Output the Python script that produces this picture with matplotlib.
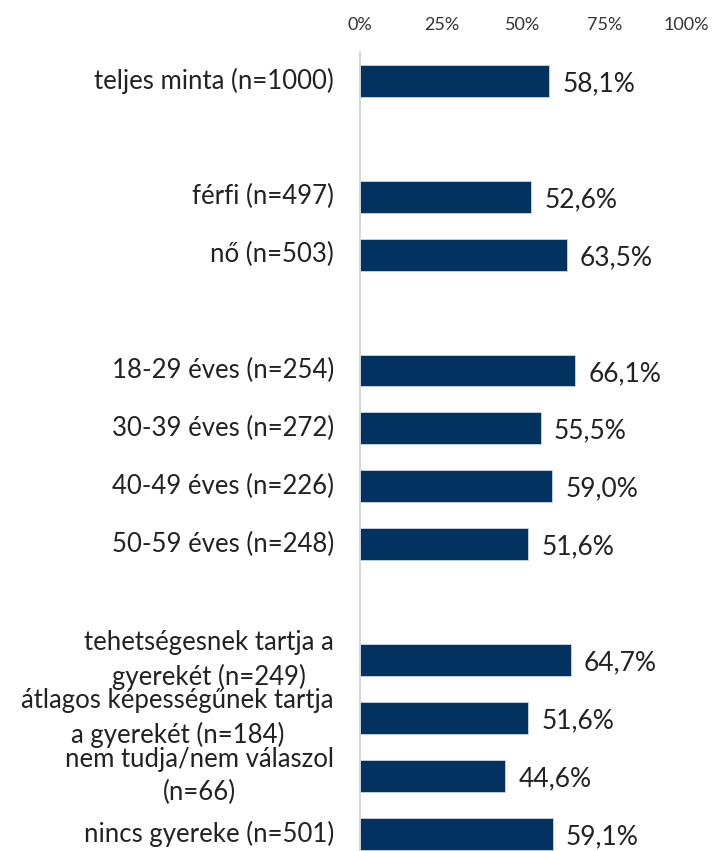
import matplotlib.pyplot as plt
import numpy as np

plt.rcParams['font.family'] = ['Lato', 'DejaVu Sans']

# data (None = empty spacer row)
labels = [
    "teljes minta (n=1000)", None,
    "férfi (n=497)", "nő (n=503)", None,
    "18-29 éves (n=254)", "30-39 éves (n=272)",
    "40-49 éves (n=226)", "50-59 éves (n=248)", None,
    "tehetségesnek tartja a\ngyerekét (n=249)",
    "átlagos képességűnek tartja\na gyerekét (n=184)",
    "nem tudja/nem válaszol\n(n=66)",
    "nincs gyereke (n=501)",
]
values = [58.1, None, 52.6, 63.5, None, 66.1, 55.5, 59.0, 51.6, None,
          64.7, 51.6, 44.6, 59.1]
xticks = [0, 25, 50, 75, 100]

bar_color = "#02325f"

fig = plt.figure(figsize=(7.13, 8.51), dpi=100)
ax = fig.add_axes([360 / 713, 0.0, 326 / 713, 1 - 52 / 851])

for i, (lab, v) in enumerate(zip(labels, values)):
    if v is None:
        continue
    ax.barh(i, v, height=0.55, color=bar_color, edgecolor="#c9d6e6", linewidth=0.6)
    ax.text(v + 4, i + 0.05, f"{v:.1f}%".replace(".", ","), ha="left", va="center",
            fontsize=19, color="#222222")
    ax.text(-8, i, lab, ha="right", va="center", multialignment="center",
            fontsize=18.5, color="#222222", linespacing=1.4,
            transform=ax.transData, clip_on=False)

ax.set_xlim(0, 100)
ax.set_ylim(13.3, -0.5)
ax.xaxis.tick_top()
ax.set_xticks(xticks)
ax.set_xticklabels([f"{t}%" for t in xticks], fontsize=13, color="#333333")
ax.tick_params(axis="x", length=0, pad=14)
ax.set_yticks([])
for s in ["top", "right", "bottom"]:
    ax.spines[s].set_visible(False)
ax.spines["left"].set_color("#d0d0d0")
ax.spines["left"].set_linewidth(1.2)

fig.savefig("out.png", dpi=100)
